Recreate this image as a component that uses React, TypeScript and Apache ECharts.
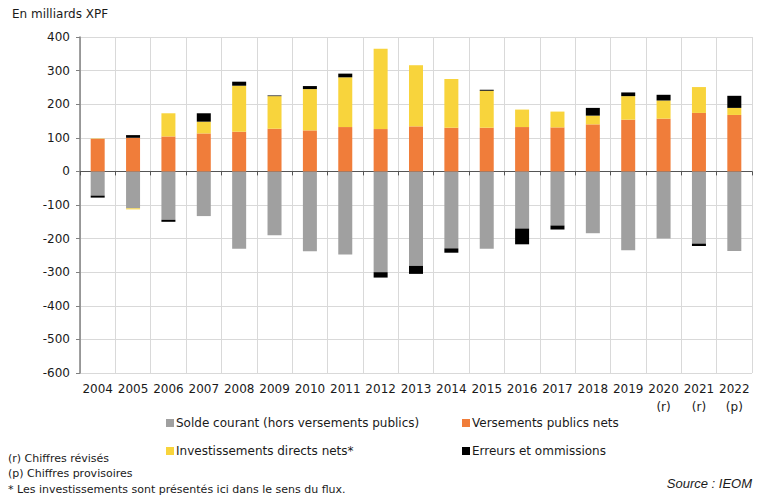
import React, { useEffect, useRef } from "react";
import * as echarts from "echarts";

const years = ["2004","2005","2006","2007","2008","2009","2010","2011","2012","2013","2014","2015","2016","2017","2018","2019","2020","2021","2022"];
const yearNotes = ["","","","","","","","","","","","","","","","","(r)","(r)","(p)"];

const soldeCourant = [-72,-110,-144,-133,-230,-190,-238,-247,-300,-281,-229,-230,-170,-161,-184,-235,-200,-215,-237];
const versementsPublics = [97,100,104,113,118,127,122,132,126,134,130,130,132,131,140,154,157,174,168];
const investissements = [1,-3,69,35,137,97,123,148,239,182,145,110,52,47,26,70,54,77,21];
const erreurs = [-6,8,-6,25,12,2,9,11,-16,-24,-13,3,-47,-12,23,11,17,-7,36];

const yTicks = { min: -600, max: 400, interval: 100 };

const FONT = "DejaVu Sans";

export default function App() {
  const ref = useRef<HTMLDivElement>(null);
  useEffect(() => {
    if (!ref.current) return;
    const chart = echarts.init(ref.current, undefined, { renderer: "svg" });
    const names = [
      "Solde courant (hors versements publics)",
      "Versements publics nets",
      "Investissements directs nets*",
      "Erreurs et ommissions",
    ];
    const colors = ["#A0A0A0", "#F07D3A", "#F8D43C", "#000000"];
    const datas = [soldeCourant, versementsPublics, investissements, erreurs];
    const legendPos = [
      { left: 166, top: 417 },
      { left: 462, top: 417 },
      { left: 166, top: 445 },
      { left: 462, top: 445 },
    ];
    chart.setOption({
      animation: false,
      textStyle: { fontFamily: FONT },
      grid: { left: 80, right: 6, top: 37, bottom: 126 },
      xAxis: [
        {
          type: "category",
          data: years,
          position: "bottom",
          axisLine: { show: false, onZero: false },
          axisTick: { show: false },
          splitLine: { show: true, interval: 0, lineStyle: { color: "#D9D9D9", width: 1 } },
          axisLabel: {
            interval: 0,
            margin: 7,
            color: "#1a1a1a",
            fontSize: 12,
            fontFamily: FONT,
            lineHeight: 18,
            formatter: (v: string, i: number) => (yearNotes[i] ? v + "\n" + yearNotes[i] : v),
          },
        },
        {
          type: "category",
          data: years,
          position: "bottom",
          axisLine: { show: true, onZero: true, lineStyle: { color: "#555555", width: 1 } },
          axisTick: { show: true, interval: 0, length: 4, lineStyle: { color: "#555555" } },
          axisLabel: { show: false },
          splitLine: { show: false },
        },
      ],
      yAxis: {
        type: "value",
        min: yTicks.min,
        max: yTicks.max,
        interval: yTicks.interval,
        axisLine: { show: true, lineStyle: { color: "#808080", width: 1.5 } },
        axisTick: { show: true, length: 4, lineStyle: { color: "#808080" } },
        splitLine: { show: true, lineStyle: { color: "#D9D9D9", width: 1 } },
        axisLabel: { color: "#1a1a1a", fontSize: 12, fontFamily: FONT, margin: 10 },
      },
      legend: names.map((n, i) => ({
        data: [n],
        left: legendPos[i].left,
        top: legendPos[i].top,
        padding: 0,
        icon: "rect",
        itemWidth: 8,
        itemHeight: 8,
        itemGap: 2,
        selectedMode: false,
        textStyle: { fontSize: 12, color: "#1a1a1a", fontFamily: FONT, padding: [0, 0, 0, -3] },
      })),
      series: names.map((n, i) => ({
        name: n,
        type: "bar",
        stack: "total",
        barWidth: 14,
        data: datas[i],
        itemStyle: { color: colors[i] },
        xAxisIndex: 0,
      })),
      graphic: [
        { type: "text", left: 12, top: 8, style: { text: "En milliards XPF", fontSize: 12, fontFamily: FONT, fill: "#1a1a1a" } },
        { type: "text", left: 8, top: 453, style: { text: "(r) Chiffres révisés", fontSize: 11, fontFamily: FONT, fill: "#1a1a1a" } },
        { type: "text", left: 8, top: 468, style: { text: "(p) Chiffres provisoires", fontSize: 11, fontFamily: FONT, fill: "#1a1a1a" } },
        { type: "text", left: 8, top: 484, style: { text: "* Les investissements sont présentés ici dans le sens du flux.", fontSize: 11, fontFamily: FONT, fill: "#1a1a1a" } },
        { type: "text", right: 6, top: 477, style: { text: "Source : IEOM", fontSize: 13, fontStyle: "italic", fontFamily: "Liberation Sans", fill: "#1a1a1a" } },
      ],
    });
    return () => chart.dispose();
  }, []);
  return (
    <div
      ref={ref}
      style={{ position: "fixed", left: 0, top: 0, width: 758, height: 499, background: "#ffffff" }}
    />
  );
}
